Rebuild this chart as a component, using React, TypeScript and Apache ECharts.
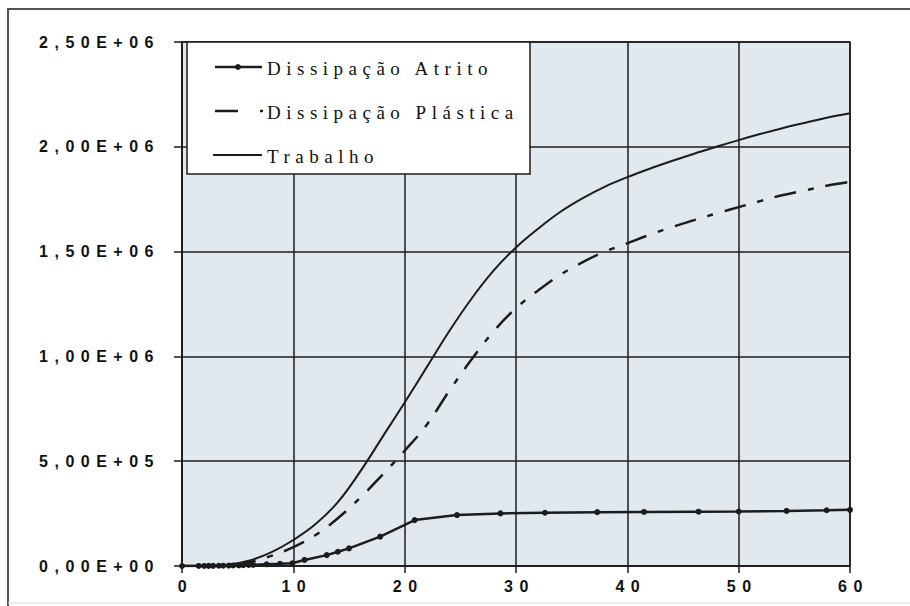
import React, { useEffect, useRef } from "react";
import * as echarts from "echarts";

const xTickLabels = ["0", "10", "20", "30", "40", "50", "60"];
const yTickLabels = ["0,00E+00", "5,00E+05", "1,00E+06", "1,50E+06", "2,00E+06", "2,50E+06"];
const legendNames = ["Dissipação Atrito", "Dissipação Plástica", "Trabalho"];

// Trabalho (solid line)
const trabalhoX = [0, 2, 4, 6, 8, 10, 12, 14, 16, 18, 20, 22, 24, 26, 28, 30, 32, 34, 36, 38, 40, 42, 44, 46, 48, 50, 52, 54, 56, 58, 60];
const trabalhoY = [0, 500, 5000, 25000, 65000, 124000, 200000, 305000, 450000, 615000, 780000, 950000, 1120000, 1275000, 1410000, 1520000, 1610000, 1690000, 1755000, 1810000, 1855000, 1895000, 1932000, 1967000, 2000000, 2032000, 2062000, 2090000, 2115000, 2140000, 2160000];

// Dissipação Plástica (dash-dot line)
const plasticaX = [0, 2, 4, 6, 8, 10, 12, 14, 16, 18, 20, 22, 24, 26, 28, 30, 32, 34, 36, 38, 40, 42, 44, 46, 48, 50, 52, 54, 56, 58, 60];
const plasticaY = [0, 300, 3000, 18000, 48000, 90000, 148000, 228000, 325000, 435000, 550000, 675000, 835000, 985000, 1120000, 1230000, 1315000, 1390000, 1450000, 1500000, 1540000, 1580000, 1617000, 1650000, 1682000, 1712000, 1742000, 1770000, 1793000, 1815000, 1833000];

// Dissipação Atrito (line with markers)
const atritoX = [0, 1.5, 2, 2.4, 2.8, 3.3, 3.7, 4.2, 4.6, 5.1, 5.5, 6, 6.4, 7.6, 8.8, 9.9, 11, 13, 14, 15, 17.8, 20.9, 24.7, 28.6, 32.6, 37.3, 41.5, 46.4, 50, 54.3, 57.9, 60];
const atritoY = [0, 200, 400, 600, 900, 1200, 1600, 2100, 2700, 3300, 4000, 4800, 5600, 8000, 10500, 13000, 29000, 52000, 68000, 84000, 140000, 219000, 243000, 251000, 254000, 257000, 258000, 259000, 260000, 263000, 266000, 268000];

const pairs = (xs: number[], ys: number[]) => xs.map((x, i) => [x, ys[i]]);

export default function App() {
  const ref = useRef<HTMLDivElement>(null);
  useEffect(() => {
    const el = ref.current!;
    const chart = echarts.init(el, null, { renderer: "svg" });
    const ink = "#1c1c1c";
    const serif = '"Liberation Serif", "Times New Roman", serif';
    const rowY = [67, 111, 155];
    chart.setOption({
      animation: false,
      backgroundColor: "#ffffff",
      grid: {
        left: 182,
        right: 60,
        top: 42,
        bottom: 40,
        show: true,
        backgroundColor: "#e1e9ee",
        borderColor: ink,
        borderWidth: 1.5,
      },
      xAxis: {
        type: "value",
        min: 0,
        max: 60,
        interval: 10,
        axisLine: { show: true, lineStyle: { color: ink, width: 1.5 } },
        axisTick: { show: true, length: 7, lineStyle: { color: ink, width: 1.5 } },
        splitLine: { show: true, lineStyle: { color: ink, width: 1.5 } },
        axisLabel: {
          margin: 12,
          fontFamily: "Liberation Sans",
          fontWeight: "bold",
          fontSize: 16,
          color: "#111",
          padding: [0, 0, 0, 7],
          formatter: (v: number) => xTickLabels[Math.round(v / 10)] ?? "",
        },
      },
      yAxis: {
        type: "value",
        min: 0,
        max: 2500000,
        interval: 500000,
        axisLine: { show: true, lineStyle: { color: ink, width: 1.5 } },
        axisTick: { show: true, length: 8, lineStyle: { color: ink, width: 1.5 } },
        splitLine: { show: true, lineStyle: { color: ink, width: 1.5 } },
        axisLabel: {
          margin: 22,
          fontFamily: "Liberation Sans",
          fontWeight: "bold",
          fontSize: 16,
          color: "#111",
          formatter: (v: number) => yTickLabels[Math.round(v / 500000)] ?? "",
        },
      },
      series: [
        {
          name: legendNames[0],
          type: "line",
          data: pairs(atritoX, atritoY),
          symbol: "circle",
          symbolSize: 6,
          itemStyle: { color: ink },
          lineStyle: { color: ink, width: 2.5 },
          z: 4,
        },
        {
          name: legendNames[1],
          type: "line",
          data: pairs(plasticaX, plasticaY),
          showSymbol: false,
          symbol: "none",
          smooth: 0.4,
          lineStyle: { color: ink, width: 2.5, type: [22, 12, 6, 12] },
          z: 3,
        },
        {
          name: legendNames[2],
          type: "line",
          data: pairs(trabalhoX, trabalhoY),
          showSymbol: false,
          symbol: "none",
          smooth: 0.4,
          lineStyle: { color: ink, width: 2 },
          z: 3,
        },
      ],
      graphic: [
        {
          type: "polyline",
          z: 1,
          silent: true,
          shape: { points: [[8, 606], [8, 9], [912, 9]] },
          style: { stroke: "#555", lineWidth: 2, fill: null },
        },
        {
          type: "line",
          z: 1,
          silent: true,
          shape: { x1: 8, y1: 603, x2: 912, y2: 603 },
          style: { stroke: "#d6dcdc", lineWidth: 1 },
        },
        {
          type: "group",
          z: 100,
          children: [
            {
              type: "rect",
              z: 100,
              shape: { x: 187, y: 42, width: 343, height: 132 },
              style: { fill: "#ffffff", stroke: ink, lineWidth: 1.5 },
            },
            {
              type: "line",
              z: 101,
              shape: { x1: 215, y1: rowY[0], x2: 262, y2: rowY[0] },
              style: { stroke: ink, lineWidth: 2.5 },
            },
            {
              type: "circle",
              z: 102,
              shape: { cx: 238, cy: rowY[0], r: 3 },
              style: { fill: ink },
            },
            {
              type: "line",
              z: 101,
              shape: { x1: 215, y1: rowY[1], x2: 238, y2: rowY[1] },
              style: { stroke: ink, lineWidth: 2.5 },
            },
            {
              type: "line",
              z: 101,
              shape: { x1: 260, y1: rowY[1], x2: 263, y2: rowY[1] },
              style: { stroke: ink, lineWidth: 2.5 },
            },
            {
              type: "line",
              z: 101,
              shape: { x1: 213, y1: rowY[2], x2: 262, y2: rowY[2] },
              style: { stroke: ink, lineWidth: 1.8 },
            },
            ...legendNames.map((name, i) => ({
              type: "text",
              z: 102,
              style: {
                text: name,
                x: 267,
                y: rowY[i] + 1,
                fontFamily: serif,
                fontSize: 19,
                fill: "#111",
                verticalAlign: "middle",
                align: "left",
              },
            })),
          ],
        },
      ],
    });
    const apply = () => {
      el.querySelectorAll("text").forEach((t) => {
        const ff = getComputedStyle(t).fontFamily || "";
        if (/Serif/.test(ff)) t.setAttribute("letter-spacing", "5.5");
        else if (/Liberation Sans/.test(ff)) t.setAttribute("letter-spacing", "6.5");
      });
    };
    apply();
    chart.on("finished", apply);
    return () => chart.dispose();
  }, []);
  return (
    <>
      <style>{`
        body { margin: 0; }
        #chart text[style*="Serif"] { letter-spacing: 5.5px; }
        #chart text[style*="Liberation Sans"] { letter-spacing: 6.5px; }
      `}</style>
      <div
        id="chart"
        ref={ref}
        style={{ position: "fixed", left: 0, top: 0, width: 910, height: 606, background: "#fff" }}
      />
    </>
  );
}
